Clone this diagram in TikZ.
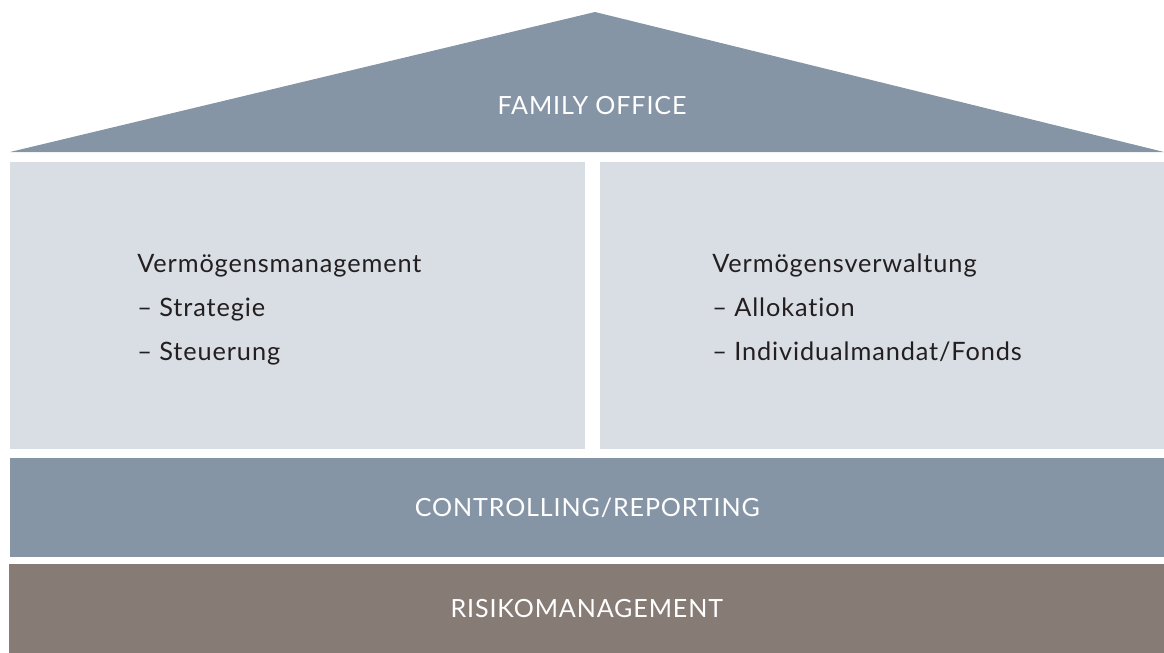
\documentclass[tikz,border=0pt]{standalone}
\usepackage{fontspec}
\setmainfont{Lato}[Ligatures=NoCommon]
\usetikzlibrary{positioning}
\definecolor{my_slate}{RGB}{134, 149, 166}
\definecolor{my_light}{RGB}{217, 221, 228}
\definecolor{my_taupe}{RGB}{135, 123, 118}
\definecolor{my_text}{RGB}{35, 31, 32}
\newfontfamily\spaced{Lato}[Ligatures=NoCommon, LetterSpace=3.5]
\tikzset {
  pillar/.style = {fill=my_light, draw=none, rectangle, inner sep=0, anchor=north west, minimum height=287*0.75pt},
  band/.style = {draw=none, rectangle, inner sep=0, anchor=north west, minimum width=1154*0.75pt},
  items/.style = {align=left, inner sep=0, anchor=north west, text=my_text, font=\spaced\fontsize{19}{33}\selectfont},
  label/.style = {text=white, font=\spaced\fontsize{18.8}{22}\selectfont}
}
\begin{document}
\begin{tikzpicture}[x=0.75pt, y=-0.75pt]
    \useasboundingbox (0,0) rectangle (1164,653);

    % roof
    \coordinate (roof_l) at (10,152);
    \coordinate (roof_top) at (595,12);
    \coordinate (roof_r) at (1164,152);
    \fill[my_slate] (roof_l) -- (roof_top) -- (roof_r) -- cycle;
    \node[label] (fo) at (592,106) {FAMILY OFFICE};

    % pillars
    \node[pillar, minimum width=575*0.75pt] (vm) at (10,162) {};
    \node[pillar, minimum width=565*0.75pt, right=14*0.75pt of vm] (vv) {};
    \node[items] (vm_txt) at (137,254) {Vermögensmanagement\\– Strategie\\– Steuerung};
    \node[items] (vv_txt) at (712,254) {Vermögensverwaltung\\– Allokation\\– Individualmandat/Fonds};

    % bands
    \node[band, fill=my_slate, minimum height=99*0.75pt] (cr) at (10,458) {};
    \node[label] at (cr.center) {CONTROLLING/REPORTING};
    \node[band, fill=my_taupe, minimum width=1155*0.75pt, minimum height=89*0.75pt] (rm) at (9,564) {};
    \node[label] at (rm.center) {RISIKOMANAGEMENT};

\end{tikzpicture}
\end{document}
